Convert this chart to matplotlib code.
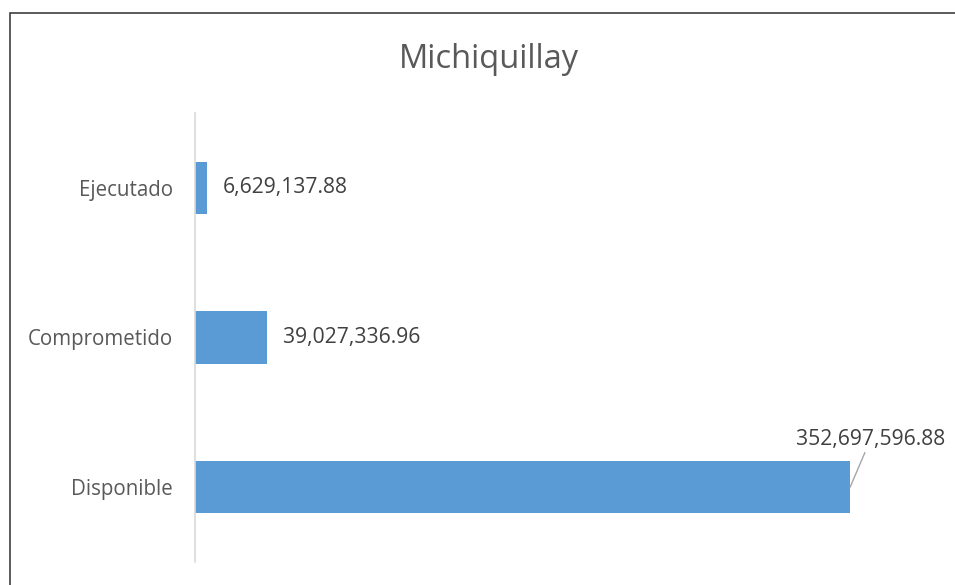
import matplotlib
matplotlib.use("Agg")
import matplotlib.pyplot as plt
from matplotlib.patches import Rectangle

categories = ["Disponible", "Comprometido", "Ejecutado"]
values = [352697596.88, 39027336.96, 6629137.88]
labels = ["352,697,596.88", "39,027,336.96", "6,629,137.88"]

W, H = 955, 585
fig = plt.figure(figsize=(W / 100, H / 100), dpi=100)
plt.rcParams['font.family'] = ['Open Sans', 'DejaVu Sans']

# chart border (cut off at right and bottom like the reference)
fig.add_artist(Rectangle((10 / W, -0.1), 2, 1.1 - 13 / H, transform=fig.transFigure,
                         fill=False, edgecolor='#404040', linewidth=1.2))

ax = fig.add_axes([195 / W, 1 - 562 / H, (938 - 195) / W, (562 - 113) / H])
ypos = list(range(len(categories)))
ax.barh(ypos, values, height=0.35, color='#5B9BD5')
ax.set_xlim(0, 400e6)
ax.set_ylim(-0.5, 2.5)
ax.set_yticks(ypos)
ax.set_yticklabels(categories, fontsize=14.8, color='#595959')
ax.tick_params(axis='y', length=0, pad=16)
ax.set_xticks([])
for s in ['top', 'right', 'bottom']:
    ax.spines[s].set_visible(False)
ax.spines['left'].set_color('#D9D9D9')
ax.spines['left'].set_linewidth(1.2)

for i, (v, lab) in enumerate(zip(values, labels)):
    if i == 0:
        ax.annotate(lab, xy=(v, i), xytext=(v + 11e6, i + 0.25),
                    ha='center', va='bottom', fontsize=15.2, color='#404040',
                    arrowprops=dict(arrowstyle='-', color='#A6A6A6', lw=1,
                                    shrinkA=0, shrinkB=0))
    else:
        ax.annotate(lab, xy=(v, i), xytext=(11, 0), textcoords='offset points',
                    ha='left', va='center', fontsize=15.2, color='#404040')

fig.text(489 / W, 1 - 60 / H, "Michiquillay", ha='center', va='center',
         fontsize=23.5, color='#595959')

fig.savefig("out.png", dpi=100)
